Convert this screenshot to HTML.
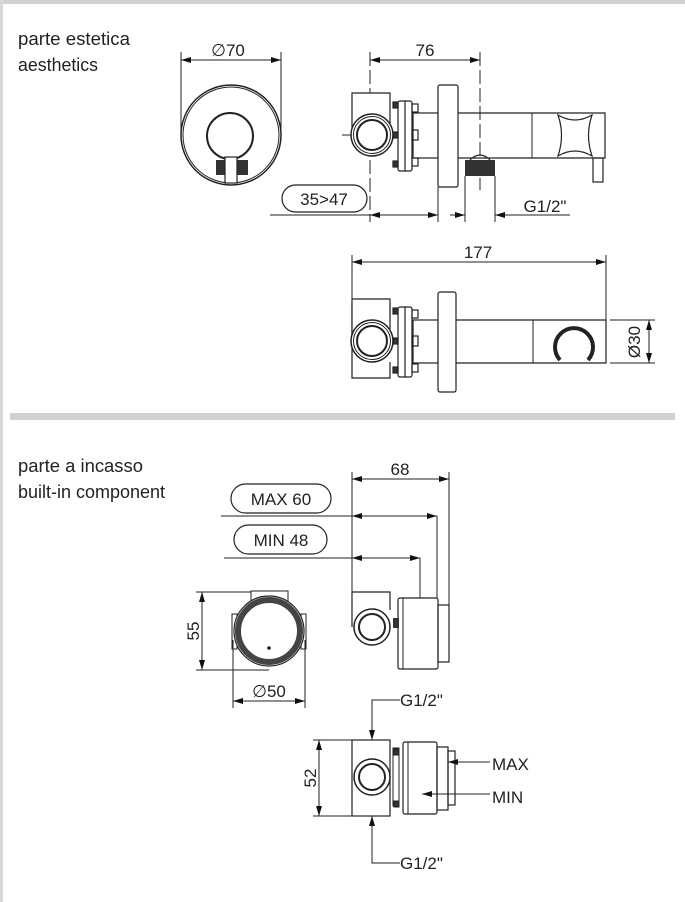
<!DOCTYPE html>
<html><head><meta charset="utf-8"><style>
html,body{margin:0;padding:0;background:#fff}
svg{display:block}
text{font-family:"Liberation Sans",sans-serif;fill:#222}
</style></head><body>
<svg width="685" height="902" viewBox="0 0 685 902" xmlns="http://www.w3.org/2000/svg">
<defs>
<marker id="a" viewBox="0 0 10 6" refX="10" refY="3" markerWidth="10" markerHeight="6" orient="auto-start-reverse" markerUnits="userSpaceOnUse"><path d="M0,0 L10,3 L0,6 z" fill="#111"/></marker>
<g id="valve" fill="none" stroke="#222" stroke-width="1.2">
<path d="M352,0 V-42 H390 V-12" fill="#fff"/>
<circle cx="372" cy="0" r="21" fill="#fff" stroke-width="1.5"/>
<circle cx="372" cy="0" r="18.5" stroke-width="1"/>
<circle cx="372" cy="0" r="15" stroke-width="2"/>
<rect x="398" y="-34" width="14" height="70" rx="2" fill="#fff"/>
<line x1="405" y1="-34" x2="405" y2="36"/>
<rect x="393" y="-33" width="5" height="6" fill="#333"/>
<rect x="393" y="-3" width="5" height="6" fill="#333"/>
<rect x="393" y="26" width="5" height="6" fill="#333"/>
<rect x="412" y="-31" width="6" height="8"/>
<rect x="412" y="-5" width="6" height="10"/>
<rect x="412" y="23" width="6" height="8"/>
</g>
</defs>
<rect x="0" y="0" width="685" height="4" fill="#d0d0d0"/>
<rect x="0" y="0" width="3" height="902" fill="#d8d8d8"/>
<rect x="10" y="413" width="665" height="7" fill="#d0d0d0"/>

<text x="18" y="45" font-size="18" textLength="112" lengthAdjust="spacingAndGlyphs">parte estetica</text>
<text x="18" y="71" font-size="18" fill="#444" textLength="80" lengthAdjust="spacingAndGlyphs">aesthetics</text>
<text x="18" y="472" font-size="18" textLength="125" lengthAdjust="spacingAndGlyphs">parte a incasso</text>
<text x="18" y="498" font-size="18" textLength="147" lengthAdjust="spacingAndGlyphs">built-in component</text>

<g stroke="#222" stroke-width="1" fill="none">
<line x1="181" y1="52" x2="181" y2="135"/><line x1="281" y1="52" x2="281" y2="135"/>
<line x1="181" y1="60" x2="281" y2="60" marker-start="url(#a)" marker-end="url(#a)"/>
<circle cx="231" cy="135" r="50" stroke-width="1.5"/>
<circle cx="231" cy="135" r="48"/>
<circle cx="230" cy="136" r="23" stroke-width="2"/>
<rect x="216" y="160" width="32" height="15" fill="#333" stroke="none"/>
<rect x="225" y="157" width="12" height="26" fill="#fff" stroke-width="1.2"/>

<line x1="370" y1="52" x2="370" y2="222" stroke-dasharray="14,4"/>
<line x1="480" y1="52" x2="480" y2="190" stroke-dasharray="14,4"/>
<line x1="370" y1="60" x2="480" y2="60" marker-start="url(#a)" marker-end="url(#a)"/>
<line x1="342" y1="135" x2="400" y2="135"/>
<rect x="413" y="113" width="25" height="45" stroke-width="1.2"/>
<path d="M458,113 H605 V158 H458" stroke-width="1.2"/>
<rect x="438" y="85" width="20" height="102" rx="2" fill="#fff" stroke-width="1.2"/>
<line x1="532" y1="113" x2="532" y2="158"/>
<path d="M558,115 Q575,125 592,115 Q585,135 592,156 Q575,146 558,156 Q565,135 558,115 z" stroke-width="1.2"/>
<rect x="593" y="158" width="10" height="24" stroke-width="1.2"/>
<rect x="465" y="160" width="30" height="16" fill="#333" stroke="none"/>
<path d="M470,160 Q480,150 490,160" stroke-width="1.2"/>
<line x1="465" y1="176" x2="465" y2="222"/><line x1="495" y1="176" x2="495" y2="222"/>
<line x1="438" y1="187" x2="438" y2="222"/>
<rect x="282" y="185" width="85" height="27" rx="13.5" stroke-width="1.2"/>
<line x1="270" y1="215" x2="370" y2="215"/>
<line x1="370" y1="215" x2="438" y2="215" marker-start="url(#a)" marker-end="url(#a)"/>
<line x1="450" y1="215" x2="465" y2="215" marker-end="url(#a)"/>
<line x1="495" y1="215" x2="570" y2="215" marker-start="url(#a)"/>
</g>
<use href="#valve" x="0" y="135"/>
<text x="228" y="56" font-size="17" text-anchor="middle">∅70</text>
<text x="425" y="56" font-size="17" text-anchor="middle">76</text>
<text x="324" y="205" font-size="17" text-anchor="middle">35&gt;47</text>
<text x="545" y="212" font-size="17" text-anchor="middle">G1/2"</text>

<g stroke="#222" stroke-width="1" fill="none">
<line x1="352" y1="255" x2="352" y2="303"/><line x1="606" y1="255" x2="606" y2="320"/>
<line x1="352" y1="262" x2="606" y2="262" marker-start="url(#a)" marker-end="url(#a)"/>
<rect x="413" y="320" width="25" height="43" stroke-width="1.2"/>
<path d="M456,320 H606 V363 H456" stroke-width="1.2"/>
<rect x="438" y="292" width="18" height="100" rx="2" fill="#fff" stroke-width="1.2"/>
<line x1="533" y1="320" x2="533" y2="363"/>
<path d="M560,360 A19,19 0 1 1 588,360" stroke-width="4"/>
<line x1="610" y1="320" x2="655" y2="320"/><line x1="610" y1="363" x2="655" y2="363"/>
<line x1="649" y1="320" x2="649" y2="363" marker-start="url(#a)" marker-end="url(#a)"/>
<path d="M352,340 V303 H390 V318" stroke-width="1.2"/>
<path d="M352,340 V378 H390 V362" stroke-width="1.2"/>
</g>
<use href="#valve" x="0" y="341"/>
<text x="478" y="258" font-size="17" text-anchor="middle">177</text>
<text transform="translate(640,342) rotate(-90)" font-size="17" text-anchor="middle">Ø30</text>

<g stroke="#222" stroke-width="1" fill="none">
<line x1="352" y1="472" x2="352" y2="592"/><line x1="449" y1="472" x2="449" y2="605"/>
<line x1="352" y1="479" x2="449" y2="479" marker-start="url(#a)" marker-end="url(#a)"/>
<rect x="231" y="484" width="100" height="29" rx="14.5" stroke-width="1.2"/>
<line x1="221" y1="516" x2="352" y2="516"/>
<line x1="352" y1="516" x2="437" y2="516" marker-start="url(#a)" marker-end="url(#a)"/>
<line x1="437" y1="516" x2="437" y2="598"/>
<rect x="234" y="525" width="93" height="29" rx="14.5" stroke-width="1.2"/>
<line x1="224" y1="558" x2="352" y2="558"/>
<line x1="352" y1="558" x2="420" y2="558" marker-start="url(#a)" marker-end="url(#a)"/>
<line x1="420" y1="558" x2="420" y2="598"/>
<path d="M352,627 V592 H390 V610" stroke-width="1.2"/>
<circle cx="372" cy="627" r="18" fill="#fff" stroke-width="1.5"/>
<circle cx="372" cy="627" r="13" stroke-width="2"/>
<rect x="398" y="598" width="40" height="71" rx="2" fill="#fff" stroke-width="1.2"/>
<line x1="403" y1="598" x2="403" y2="669"/>
<rect x="438" y="605" width="11" height="57" stroke-width="1.2"/>
<rect x="393" y="618" width="6" height="10" fill="#333" stroke="none"/>
<rect x="251" y="591" width="37" height="10" fill="#fff"/>
<rect x="232" y="614" width="5" height="35"/><rect x="301" y="614" width="5" height="35"/>
<circle cx="269" cy="631" r="35" fill="#fff" stroke-width="1.2"/>
<circle cx="269" cy="631" r="31" stroke="#444" stroke-width="6"/>
<circle cx="269" cy="648" r="1.8" fill="#222" stroke="none"/>
<line x1="196" y1="592" x2="251" y2="592"/><line x1="196" y1="670" x2="269" y2="670"/>
<line x1="202" y1="592" x2="202" y2="670" marker-start="url(#a)" marker-end="url(#a)"/>
<line x1="233" y1="640" x2="233" y2="708"/><line x1="305" y1="640" x2="305" y2="708"/>
<line x1="233" y1="701" x2="305" y2="701" marker-start="url(#a)" marker-end="url(#a)"/>
</g>
<text x="400" y="475" font-size="17" text-anchor="middle">68</text>
<text x="281" y="505" font-size="17" text-anchor="middle">MAX 60</text>
<text x="281" y="546" font-size="17" text-anchor="middle">MIN 48</text>
<text transform="translate(199,631) rotate(-90)" font-size="17" text-anchor="middle">55</text>
<text x="269" y="697" font-size="17" text-anchor="middle">∅50</text>

<g stroke="#222" stroke-width="1" fill="none">
<path d="M400,700 H372 V740" marker-end="url(#a)"/>
<path d="M400,863 H372 V816" marker-end="url(#a)"/>
<line x1="313" y1="740" x2="352" y2="740"/><line x1="313" y1="816" x2="352" y2="816"/>
<line x1="319" y1="740" x2="319" y2="816" marker-start="url(#a)" marker-end="url(#a)"/>
<rect x="352" y="740" width="38" height="76" fill="#fff" stroke-width="1.2"/>
<circle cx="372" cy="777" r="18" fill="#fff" stroke-width="1.5"/>
<circle cx="372" cy="777" r="13" stroke-width="2"/>
<rect x="393" y="748" width="6" height="58"/>
<rect x="403" y="742" width="34" height="72" rx="2" fill="#fff" stroke-width="1.2"/>
<line x1="408" y1="742" x2="408" y2="814"/>
<rect x="437" y="747" width="11" height="63" stroke-width="1.2"/>
<rect x="448" y="751" width="7" height="54" stroke-width="1.2"/>
<rect x="394" y="749" width="5" height="6" fill="#333"/><rect x="394" y="801" width="5" height="6" fill="#333"/>
<line x1="490" y1="762" x2="448" y2="762" marker-end="url(#a)"/>
<line x1="490" y1="794" x2="422" y2="794" marker-end="url(#a)"/>
</g>
<text x="400" y="706" font-size="17">G1/2"</text>
<text x="400" y="869" font-size="17">G1/2"</text>
<text transform="translate(316,778) rotate(-90)" font-size="17" text-anchor="middle">52</text>
<text x="492" y="770" font-size="17">MAX</text>
<text x="492" y="803" font-size="17">MIN</text>
</svg>
</body></html>
